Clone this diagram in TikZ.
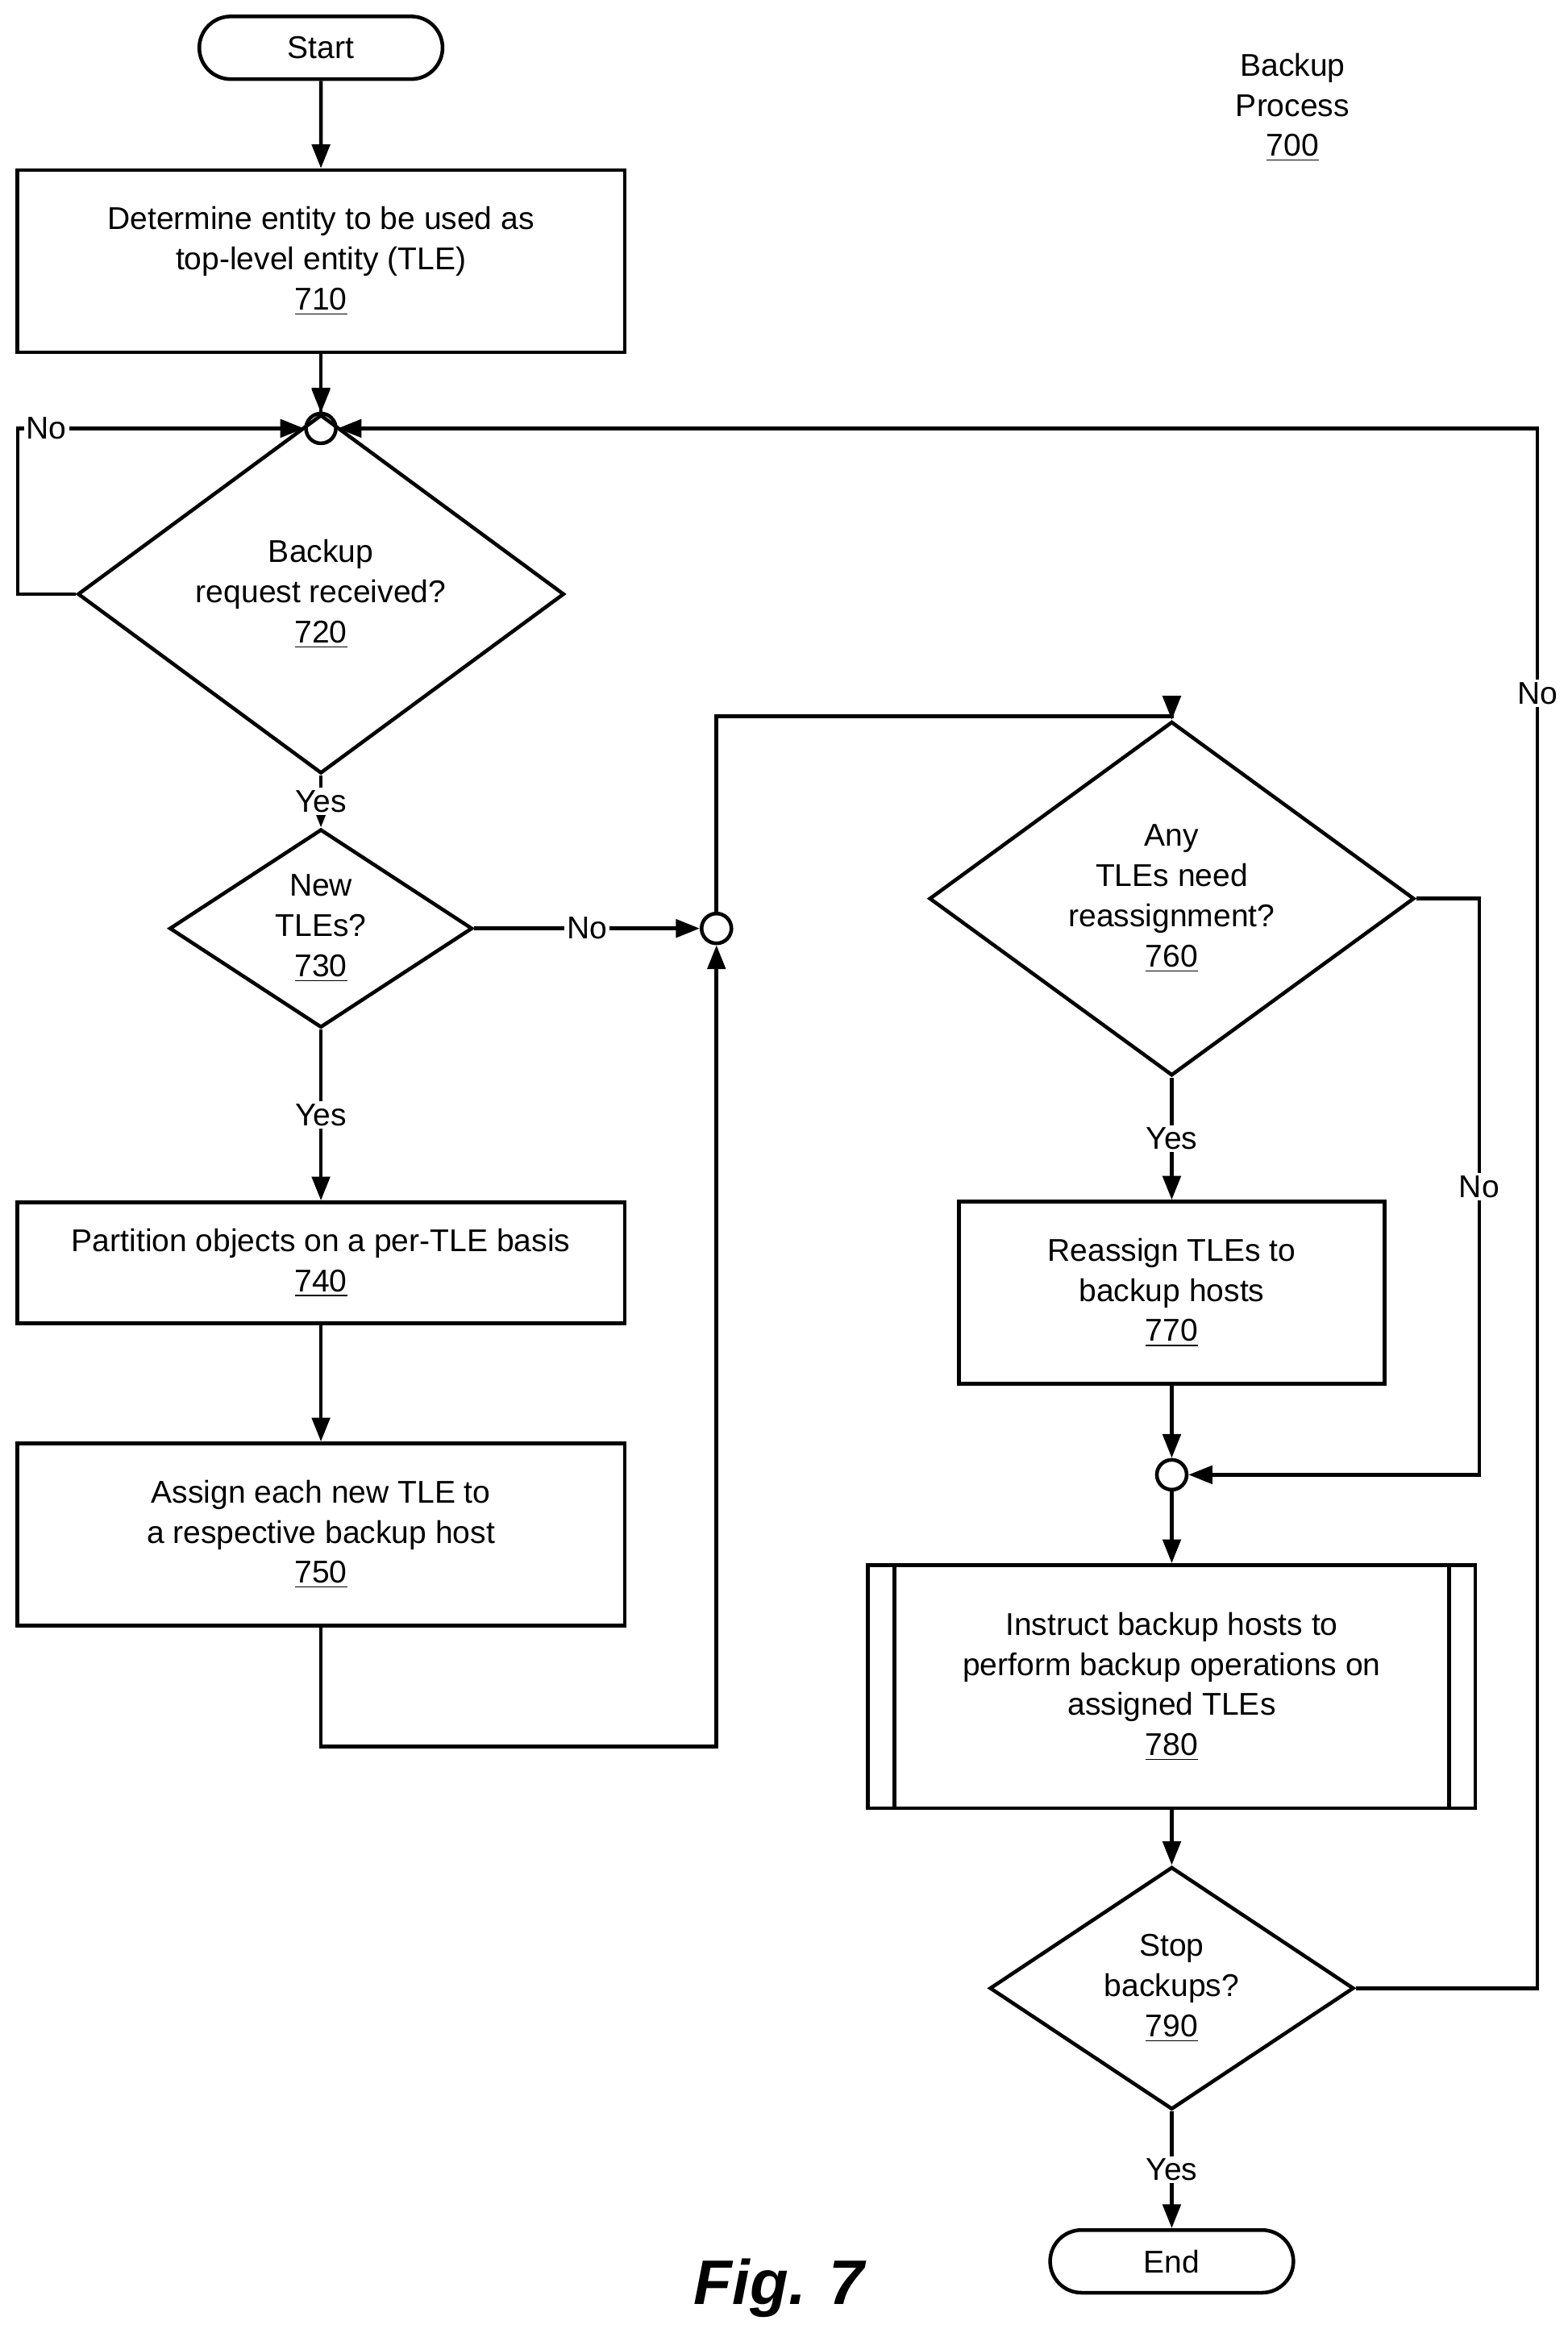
\documentclass[tikz,border=0pt]{standalone}
\usepackage{fontspec}
\setmainfont{Liberation Sans}
\usetikzlibrary{shapes.geometric,shapes.misc,arrows.meta,positioning}
\tikzset{
  box/.style={draw,rectangle,line width=1.4pt,align=center,inner sep=2pt},
  dec/.style={draw,diamond,line width=1.4pt,align=center,inner sep=0pt},
  term/.style={draw,rounded rectangle,line width=1.4pt,inner sep=0pt},
  merge/.style={draw,circle,line width=1.4pt,minimum size=0.4cm,inner sep=0pt},
  lbl/.style={fill=white,inner sep=1pt},
  flow/.style={line width=1.4pt,-{Triangle[length=0.32cm,width=0.24cm]}},
  line/.style={line width=1.4pt}
}
\begin{document}
\begin{tikzpicture}[x=0.02cm,y=-0.02cm,font=\fontsize{12}{15.3}\selectfont]
\useasboundingbox (0,0) rectangle (1050,1563);
% terminals and boxes
\node[term,minimum width=3.26cm,minimum height=0.84cm] (start) at (215,32) {Start};
\node[box,minimum width=8.14cm,minimum height=2.44cm] (b710) at (215,175)
  {Determine entity to be used as\\top-level entity (TLE)\\\underline{710}};
\node[merge] (j1) at (215,287) {};
\node[dec,minimum width=6.52cm,minimum height=2.46cm] (d720) at (215,398)
  {Backup\\request received?\\\underline{720}};
\node[dec,minimum width=4.06cm,minimum height=2.44cm] (d730) at (215,622)
  {New\\TLEs?\\\underline{730}};
\node[merge] (j2) at (480,622) {};
\node[box,minimum width=8.14cm,minimum height=1.62cm] (b740) at (215,846)
  {Partition objects on a per-TLE basis\\\underline{740}};
\node[box,minimum width=8.14cm,minimum height=2.44cm] (b750) at (215,1028)
  {Assign each new TLE to\\a respective backup host\\\underline{750}};
\node[dec,minimum width=6.5cm,minimum height=3.26cm] (d760) at (785,602)
  {Any\\TLEs need\\reassignment?\\\underline{760}};
\node[box,minimum width=5.7cm,minimum height=2.44cm] (b770) at (785,866)
  {Reassign TLEs to\\backup hosts\\\underline{770}};
\node[merge] (j3) at (785,988) {};
\node[box,minimum width=8.14cm,minimum height=3.26cm] (b780) at (785,1130)
  {Instruct backup hosts to\\perform backup operations on\\assigned TLEs\\\underline{780}};
\draw[line] ([xshift=0.38cm]b780.north west) -- ([xshift=0.38cm]b780.south west);
\draw[line] ([xshift=-0.38cm]b780.north east) -- ([xshift=-0.38cm]b780.south east);
\node[dec,minimum width=4.88cm,minimum height=2.44cm] (d790) at (785,1332)
  {Stop\\backups?\\\underline{790}};
\node[term,minimum width=3.26cm,minimum height=0.84cm] (end) at (785,1515) {End};
\node[align=center] (title) at (866,72) {Backup\\Process\\\underline{700}};
\node[font=\bfseries\itshape\fontsize{24}{28}\selectfont] (fig) at (522,1533) {Fig. 7};
% connectors
\draw[flow] (start) -- (b710);
\draw[flow] (b710) -- (j1);
\draw[flow] (j1) -- (d720);
\draw[flow] (d720.west) -- (12,398) -- (12,287) -- node[lbl,pos=0.1]{No} (j1);
\draw[flow] (d720.south) -- node[lbl]{Yes} (d730.north);
\draw[flow] (d730.east) -- node[lbl]{No} (j2);
\draw[flow] (d730.south) -- node[lbl]{Yes} (b740.north);
\draw[flow] (b740) -- (b750);
\draw[flow] (b750.south) -- (215,1170) -- (480,1170) -- (j2);
\draw[flow] (j2) -- (480,480) -- (785,480) -- (d760.north);
\draw[flow] (d760.south) -- node[lbl]{Yes} (b770.north);
\draw[flow] (d760.east) -- (991,602) -- node[lbl]{No} (991,988) -- (j3);
\draw[flow] (b770) -- (j3);
\draw[flow] (j3) -- (b780);
\draw[flow] (b780) -- (d790);
\draw[flow] (d790.east) -- (1030,1332) -- node[lbl,pos=0.83]{No} (1030,287) -- (j1);
\draw[flow] (d790.south) -- node[lbl]{Yes} (end.north);
\end{tikzpicture}
\end{document}
